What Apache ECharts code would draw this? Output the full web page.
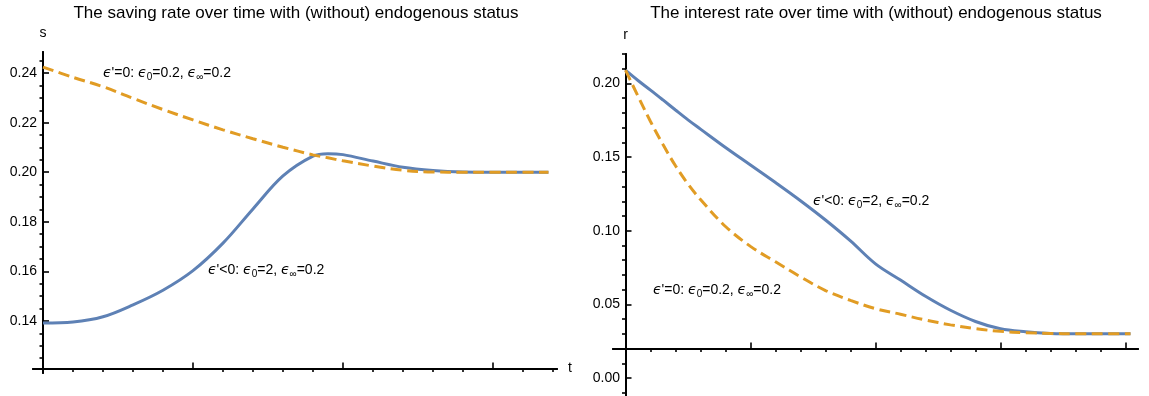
<!DOCTYPE html>
<html>
<head>
<meta charset="utf-8">
<script src="https://cdn.jsdelivr.net/npm/echarts@6/dist/echarts.min.js"></script>
<style>
  html, body { margin: 0; padding: 0; background: #fff; }
  #main { width: 1149px; height: 396px; }
</style>
</head>
<body>
<div id="main"></div>
<script>
// saving rate panel
const tLeft = [0, 2, 4, 6, 8, 10, 12, 14, 16, 18, 19, 20, 22, 24, 26, 28, 30, 32, 33.7];
const sEndog = [0.1392, 0.1396, 0.1417, 0.1465, 0.1524, 0.1603, 0.1714, 0.1852, 0.1985, 0.2065, 0.2075,
                0.2071, 0.2045, 0.2020, 0.2007, 0.2001, 0.2000, 0.2000, 0.2000];
const sExog = [0.2424, 0.2383, 0.2345, 0.2298, 0.2253, 0.2211, 0.2171, 0.2135, 0.2101, 0.2070, 0.2058,
               0.2046, 0.2025, 0.2008, 0.2001, 0.2000, 0.2000, 0.2000, 0.2000];

// interest rate panel
const tRight = [0, 1, 2, 3, 4, 5, 6, 8, 10, 12, 14, 16, 18, 20, 22, 24, 26, 28, 30, 32, 34, 36, 38, 40.4];
const rEndog = [0.2090, 0.2020, 0.1955, 0.1888, 0.1820, 0.1753, 0.1690, 0.1565, 0.1446, 0.1327, 0.1204, 0.1073,
                0.0931, 0.0775, 0.0665, 0.0555, 0.0460, 0.0384, 0.0334, 0.0314, 0.0303, 0.0300, 0.0300, 0.0300];
const rExog = [0.2090, 0.1914, 0.1742, 0.1585, 0.1441, 0.1317, 0.1212, 0.1029, 0.0894, 0.0789, 0.0687, 0.0594,
               0.0527, 0.0471, 0.0433, 0.0394, 0.0361, 0.0335, 0.0317, 0.0308, 0.0303, 0.0300, 0.0300, 0.0300];

// ticks
const sMajor = [0.14, 0.16, 0.18, 0.20, 0.22, 0.24];
const sMinor = [0.125, 0.13, 0.135, 0.145, 0.15, 0.155, 0.165, 0.17, 0.175, 0.185, 0.19, 0.195,
                0.205, 0.21, 0.215, 0.225, 0.23, 0.235, 0.245];
const rMajor = [0, 0.05, 0.10, 0.15, 0.20];
const rMinor = [-0.01, 0.01, 0.02, 0.03, 0.04, 0.06, 0.07, 0.08, 0.09, 0.11, 0.12, 0.13, 0.14,
                0.16, 0.17, 0.18, 0.19, 0.21, 0.22];
const tMajorL = [10, 20, 30];
const tMinorL = [2, 4, 6, 8, 12, 14, 16, 18, 22, 24, 26, 28, 32, 34];
const tMajorR = [10, 20, 30, 40];
const tMinorR = [2, 4, 6, 8, 12, 14, 16, 18, 22, 24, 26, 28, 32, 34, 36, 38];

const FONT = 'Liberation Sans, Arial, sans-serif';
const BLUE = '#5E81B5';
const ORANGE = '#E19C24';

// axis ranges (the horizontal axis crosses at sCross / rCross)
const sRange = [0.119, 0.2485], sCross = 0.1208;
const rRange = [-0.0122, 0.22], rCross = 0.02;
const tRangeL = [-0.667, 34.27];
const tRangeR = [-1, 41];

const pair = (xs, ys) => xs.map((x, i) => [x, ys[i]]);

const lineAxis = { color: '#000', width: 2 };

function xAxes(grid, range, major, minor, crossIdx, name) {
  const base = {
    type: 'value', gridIndex: grid, min: range[0], max: range[1],
    splitLine: { show: false },
    axisLabel: { show: false },
    axisLine: { onZero: true, onZeroAxisIndex: crossIdx, lineStyle: lineAxis }
  };
  return [
    Object.assign({}, base, {
      name: name, nameLocation: 'end', nameGap: 11,
      nameTextStyle: { color: '#000', fontSize: 14, fontFamily: FONT },
      axisTick: { inside: true, length: 6, customValues: major, lineStyle: { color: '#000', width: 1.6 } }
    }),
    Object.assign({}, base, {
      axisTick: { inside: true, length: 3.5, customValues: minor, lineStyle: { color: '#000', width: 1.6 } }
    })
  ];
}

// labels stay at the grid edge, not at the shifted axis line, hence the negative margin
function yAxes(grid, range, cross, major, minor, xIdx, name, labelMargin) {
  const base = {
    type: 'value', gridIndex: grid, min: range[0], max: range[1],
    splitLine: { show: false },
    axisLine: { onZero: true, onZeroAxisIndex: xIdx, lineStyle: lineAxis }
  };
  return [
    Object.assign({}, base, {
      name: name, nameLocation: 'end', nameGap: 12,
      nameTextStyle: { color: '#000', fontSize: 14, fontFamily: FONT },
      axisTick: { inside: true, length: 6, customValues: major, lineStyle: { color: '#000', width: 1.6 } },
      axisLabel: { customValues: major, formatter: v => v.toFixed(2), color: '#000',
                   fontSize: 14, fontFamily: FONT, margin: labelMargin }
    }),
    Object.assign({}, base, {
      axisLabel: { show: false },
      axisTick: { inside: true, length: 3.5, customValues: minor, lineStyle: { color: '#000', width: 1.6 } }
    }),
    // hidden helper axis: its zero is where the time axis crosses
    { type: 'value', gridIndex: grid, show: false, min: range[0] - cross, max: range[1] - cross }
  ];
}

const sub = { fontSize: 10, fontFamily: FONT, fill: '#000', padding: [9, 0, 0, 0] };
function note(x, y, text) {
  return {
    type: 'text', x: x, y: y,
    style: {
      text: text, fill: '#000', fontSize: 14, fontFamily: FONT, verticalAlign: 'middle',
      rich: { s: sub, e: { fontSize: 14, fontFamily: 'DejaVu Sans', fontStyle: 'italic', fill: '#000' } }
    }
  };
}
const noteExog = "{e|ϵ}'=0: {e|ϵ}{s|0}=0.2, {e|ϵ}{s|∞}=0.2";
const noteEndog = "{e|ϵ}'<0: {e|ϵ}{s|0}=2, {e|ϵ}{s|∞}=0.2";

const chart = echarts.init(document.getElementById('main'));

const option = {
  animation: false,
  backgroundColor: '#fff',
  title: [
    { text: 'The saving rate over time with (without) endogenous status', left: 296, top: 5,
      textAlign: 'center', padding: 0,
      textStyle: { fontSize: 17, fontWeight: 'normal', color: '#000', fontFamily: FONT } },
    { text: 'The interest rate over time with (without) endogenous status', left: 876, top: 5,
      textAlign: 'center', padding: 0,
      textStyle: { fontSize: 17, fontWeight: 'normal', color: '#000', fontFamily: FONT } }
  ],
  grid: [
    { left: 33, top: 52, width: 524, height: 321, outerBoundsMode: 'none' },
    { left: 613, top: 54, width: 525, height: 342, outerBoundsMode: 'none' }
  ],
  xAxis: [].concat(
    xAxes(0, tRangeL, tMajorL, tMinorL, 2, 't'),
    xAxes(1, tRangeR, tMajorR, tMinorR, 5, '')
  ),
  yAxis: [].concat(
    yAxes(0, sRange, sCross, sMajor, sMinor, 0, 's', -4),
    yAxes(1, rRange, rCross, rMajor, rMinor, 2, 'r', -7)
  ),
  series: [
    { type: 'line', xAxisIndex: 0, yAxisIndex: 0, data: pair(tLeft, sEndog), smooth: 0.35,
      showSymbol: false, lineStyle: { color: BLUE, width: 3 } },
    { type: 'line', xAxisIndex: 0, yAxisIndex: 0, data: pair(tLeft, sExog), smooth: 0.35,
      showSymbol: false, lineStyle: { color: ORANGE, width: 3, type: [11, 5.5] } },
    { type: 'line', xAxisIndex: 2, yAxisIndex: 3, data: pair(tRight, rEndog), smooth: 0.35,
      showSymbol: false, lineStyle: { color: BLUE, width: 3 } },
    { type: 'line', xAxisIndex: 2, yAxisIndex: 3, data: pair(tRight, rExog), smooth: 0.35,
      showSymbol: false, lineStyle: { color: ORANGE, width: 3, type: [11, 5.5] } }
  ],
  graphic: [
    note(103, 73, noteExog),
    note(208, 270, noteEndog),
    note(813, 201, noteEndog),
    note(653, 290, noteExog)
  ]
};

chart.setOption(option);
</script>
</body>
</html>
